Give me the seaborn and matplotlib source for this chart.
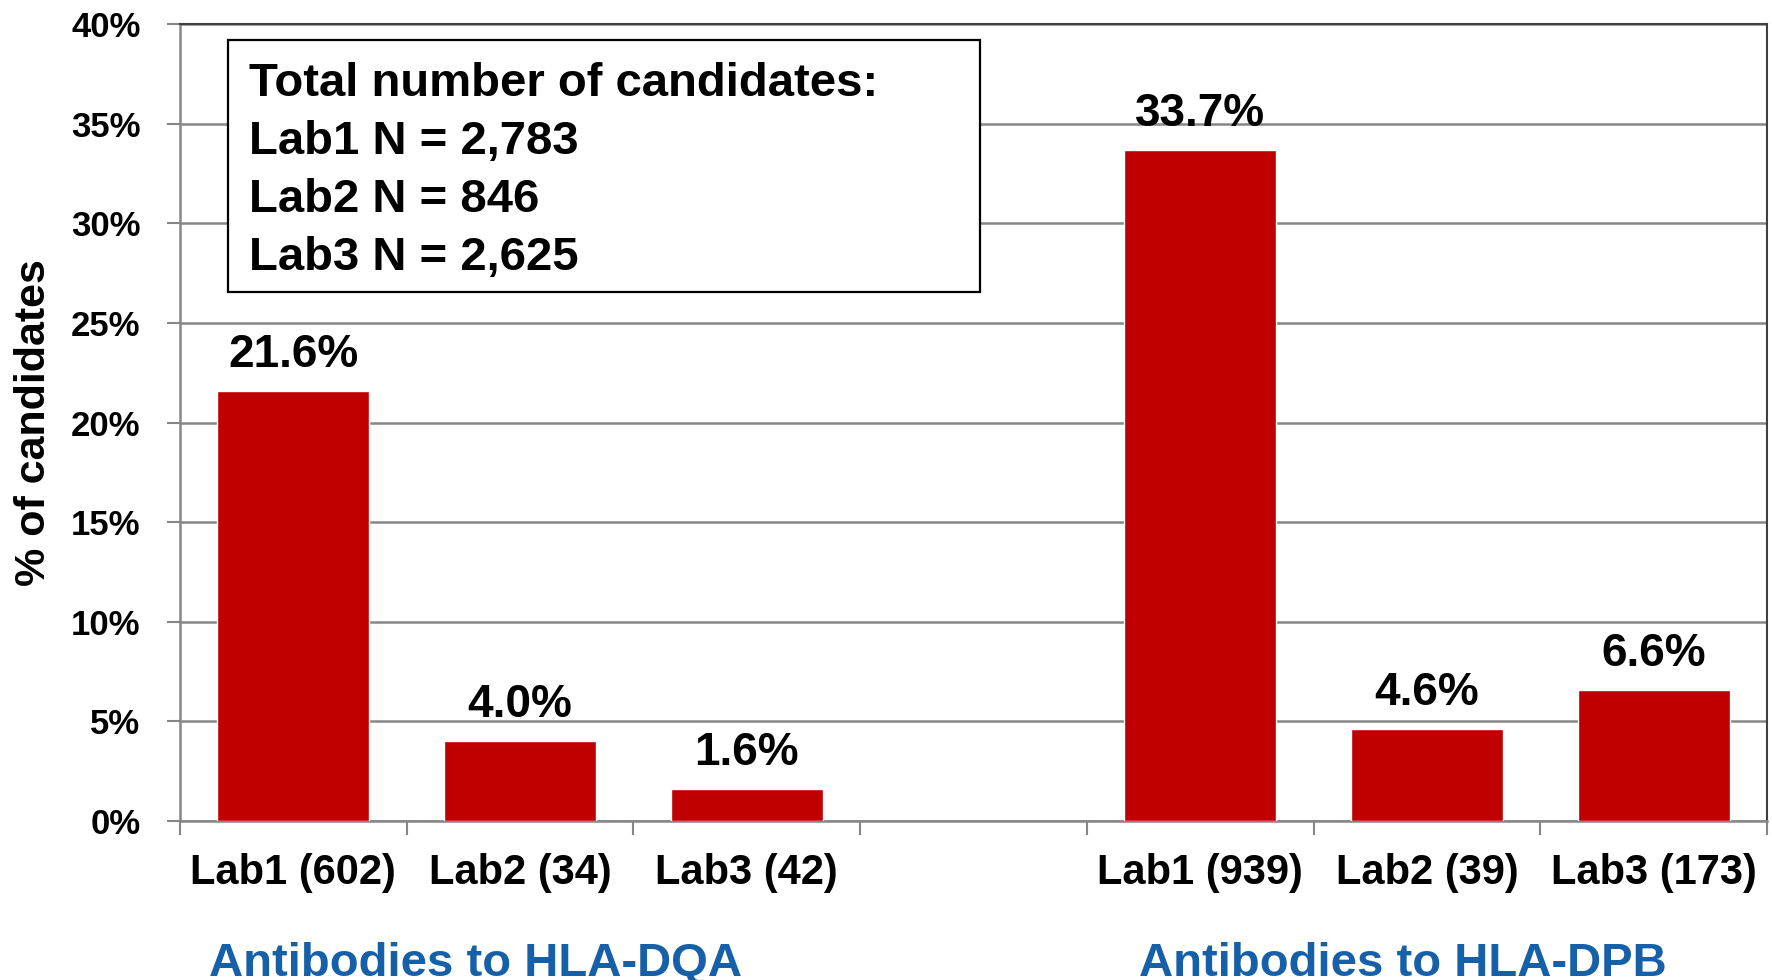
import matplotlib
matplotlib.use("Agg")
import matplotlib.pyplot as plt
from matplotlib.patches import Rectangle
import seaborn as sns
import pandas as pd
import numpy as np

# values
dqa_labels = ["Lab1 (602)", "Lab2 (34)", "Lab3 (42)"]
dqa_pct = [21.6, 4.0, 1.6]
dpb_labels = ["Lab1 (939)", "Lab2 (39)", "Lab3 (173)"]
dpb_pct = [33.7, 4.6, 6.6]
group_titles = ["Antibodies to HLA-DQA", "Antibodies to HLA-DPB"]
totals_lines = ["Total number of candidates:", "Lab1 N = 2,783",
                "Lab2 N = 846", "Lab3 N = 2,625"]
y_ticks = [0, 5, 10, 15, 20, 25, 30, 35, 40]

sns.set_theme(style="white")
plt.rcParams["font.family"] = ["Liberation Sans", "DejaVu Sans"]
plt.rcParams["font.weight"] = "bold"
for key in ["text.color", "axes.labelcolor", "xtick.color", "ytick.color"]:
    plt.rcParams[key] = "black"

df = pd.DataFrame({"lab": dqa_labels + dpb_labels, "pct": dqa_pct + dpb_pct})
order = dqa_labels + [" "] + dpb_labels

fig = plt.figure(figsize=(17.72, 9.8), dpi=100)
ax = fig.add_axes([0.1016, 0.1622, 0.8956, 0.8133])

sns.barplot(data=df, x="lab", y="pct", order=order, color="#C00000",
            saturation=1, width=0.67, ax=ax, zorder=3, errorbar=None)

for cont in ax.containers:
    labs = ["" if np.isnan(b.get_height()) else f"{b.get_height():.1f}%" for b in cont]
    ax.bar_label(cont, labels=labs, padding=10, fontsize=33, fontweight="bold",
                 color="black")

ax.set_ylim(0, 40)
ax.set_xlim(-0.5, len(order) - 0.5)
ax.set_yticks(y_ticks)
ax.set_yticklabels([f"{t}%" for t in y_ticks])
ax.yaxis.grid(True, color="#868686", linewidth=1.8, zorder=0)
ax.set_axisbelow(True)

# boundaries as major ticks, names as minor ticks
ax.set_xticks(np.arange(-0.5, len(order)), labels=[""] * (len(order) + 1))
ax.set_xticks(np.arange(len(order)), labels=order, minor=True)
ax.tick_params(axis="x", which="major", length=10, width=1.5, color="#868686",
               direction="out", bottom=True)
ax.tick_params(axis="x", which="minor", length=0, pad=23, labelsize=30,
               labelcolor="black")
ax.tick_params(axis="y", length=9.5, width=1.5, color="#868686", direction="out",
               left=True, pad=19, labelsize=25, labelcolor="black")
ax.set_xlabel("")
ax.set_ylabel("% of candidates", fontsize=31, fontweight="bold", color="black")
ax.yaxis.set_label_coords(-0.092, 0.5)
ax.yaxis.label.set_va("center")

for side in ["left", "bottom"]:
    ax.spines[side].set_color("#868686")
    ax.spines[side].set_linewidth(1.8)
for side in ["top", "right"]:
    ax.spines[side].set_color("#404040")
    ax.spines[side].set_linewidth(1.5)

# totals box
ax.add_patch(Rectangle((0.0302, 0.664), 0.4738, 0.316, transform=ax.transAxes,
                       facecolor="white", edgecolor="black", linewidth=1.6, zorder=4))
ax.text(0.0435, 0.8156, "\n".join(totals_lines), transform=ax.transAxes,
        fontsize=34, fontweight="bold", va="center", ha="left",
        linespacing=1.41, zorder=5, color="black")

# group titles under the axis
for xpos, title in zip([0.2686, 0.7918], group_titles):
    fig.text(xpos, 0.0388, title, ha="center", va="top", fontsize=34,
             fontweight="bold", color="#1560A8")

fig.savefig("out.png", dpi=100)
